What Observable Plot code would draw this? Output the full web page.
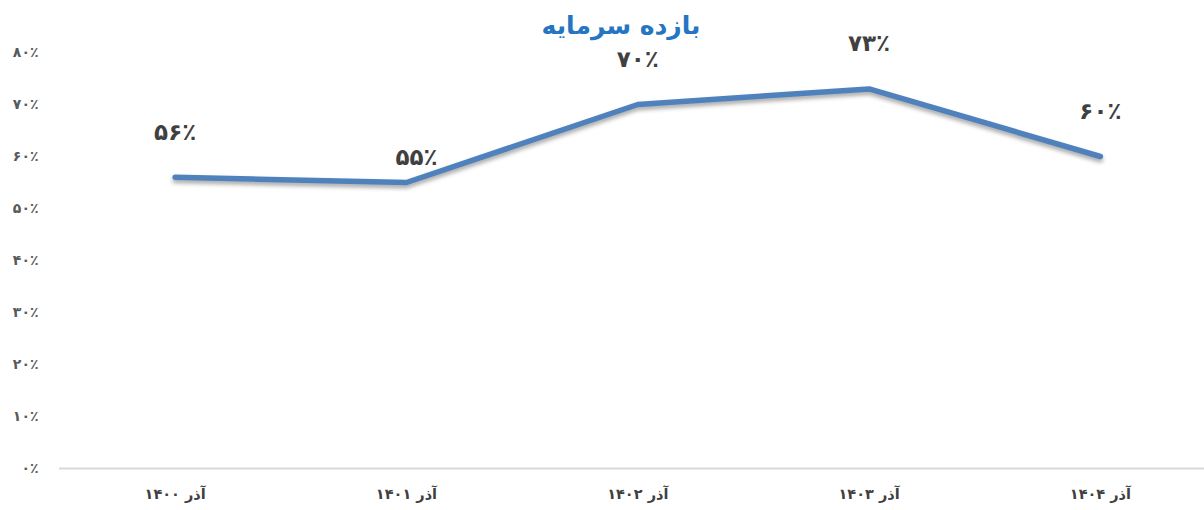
<!DOCTYPE html>
<html><head><meta charset="utf-8">
<script src="https://cdn.jsdelivr.net/npm/d3@7"></script>
<script src="https://cdn.jsdelivr.net/npm/@observablehq/plot@0.6"></script>
<style>
html,body{margin:0;padding:0;background:#fff;}
#chart{width:1204px;height:510px;}
</style></head>
<body><div id="chart"></div>
<script>
const title = "بازده سرمایه";
const categories = ["آذر ۱۴۰۰", "آذر ۱۴۰۱", "آذر ۱۴۰۲", "آذر ۱۴۰۳", "آذر ۱۴۰۴"];
const values = [56, 55, 70, 73, 60];
const valueLabels = ["۵۶٪", "۵۵٪", "۷۰٪", "۷۳٪", "۶۰٪"];
const yTicks = [0, 10, 20, 30, 40, 50, 60, 70, 80];
const yTickLabels = ["۰٪", "۱۰٪", "۲۰٪", "۳۰٪", "۴۰٪", "۵۰٪", "۶۰٪", "۷۰٪", "۸۰٪"];

const data = categories.map((c, i) => ({i, c, v: values[i], label: valueLabels[i]}));
const font = "DejaVu Sans, sans-serif";

const chart = Plot.plot({
  width: 1204,
  height: 510,
  marginTop: 52,
  marginBottom: 42,
  marginLeft: 59,
  marginRight: 0,
  style: {fontFamily: font, background: "#fff"},
  x: {type: "linear", domain: [-0.5, 4.45]},
  y: {domain: [0, 80]},
  marks: [
    Plot.ruleY([0], {stroke: "#d9d9d9", strokeWidth: 2}),
    Plot.axisY({ticks: yTicks, tickFormat: d => yTickLabels[yTicks.indexOf(d)], tickSize: 0, tickPadding: 21,
      fontSize: 14, fontWeight: "bold", fill: "#595959", label: null}),
    Plot.axisX({ticks: data.map(d => d.i), tickFormat: i => categories[i], tickSize: 0, tickPadding: 20,
      fontSize: 14.5, fontWeight: "bold", fill: "#404040", label: null}),
    Plot.line(data, {x: "i", y: "v", stroke: "#4f81bd", strokeWidth: 5.5, strokeLinecap: "round", strokeLinejoin: "round"}),
    Plot.text(data.filter(d => d.i !== 1), {x: "i", y: "v", text: "label", dy: -45, fontSize: 23, fontWeight: "bold", fill: "#404040"}),
    Plot.text(data.filter(d => d.i === 1), {x: "i", y: "v", text: "label", dy: -25, dx: 10, fontSize: 23, fontWeight: "bold", fill: "#404040"}),
    Plot.text([title], {frameAnchor: "top", lineAnchor: "middle", dx: -11, dy: -27, fontSize: 25, fontWeight: "bold", fill: "#2475c2"})
  ]
});
d3.select(chart).selectAll('g[aria-label="line"] path').style("filter", "drop-shadow(0px 3px 2px rgba(0,0,0,0.35))");
document.getElementById("chart").appendChild(chart);
</script></body></html>
